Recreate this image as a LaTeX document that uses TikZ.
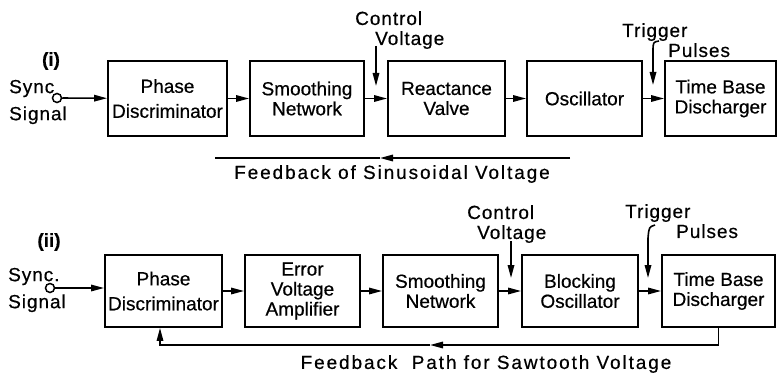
\documentclass[tikz,border=0pt]{standalone}
\usepackage{fontspec}
\setmainfont{Liberation Sans}[FakeBold=0.5]
\usepackage{tikz}
\usetikzlibrary{arrows.meta}

\begin{document}
\begin{tikzpicture}[x=1pt,y=-1pt,
    font=\fontsize{19}{20}\selectfont,
    block/.style={draw,line width=1.9pt,inner sep=0pt,align=center,minimum height=75pt},
    arr/.style={line width=1.6pt,-{Triangle[length=13pt,width=6.5pt]}},
    wire/.style={line width=1.6pt},
    jack/.style={draw,circle,line width=1.5pt,inner sep=0pt,minimum size=9pt},
    lbl/.style={inner sep=0pt,align=left,font=\fontsize{19}{20}\selectfont\addfontfeature{LetterSpace=5}},
    fblbl/.style={inner sep=0pt,font=\fontsize{19}{20}\selectfont\addfontfeature{LetterSpace=10}}]
  \useasboundingbox (0,0) rectangle (778,377);

  % (i) Sinusoidal feedback
  \node[font=\fontsize{19}{20}\selectfont\bfseries] (tag1) at (51,61) {(i)};
  \node[lbl,anchor=west] (sync1) at (9,102) {Sync\\[7pt]Signal};
  \node[jack] (in1) at (57,98) {};
  \node[block,minimum width=119pt] (b11) at (167.5,98.5) {\raisebox{-3pt}{\shortstack{Phase\\[8pt]Discriminator}}};
  \node[block,minimum width=114pt] (b12) at (307,98.5) {Smoothing\\Network};
  \node[block,minimum width=117pt] (b13) at (446.5,98.5) {Reactance\\Valve};
  \node[block,minimum width=115pt] (b14) at (584.5,98.5) {Oscillator};
  \node[block,minimum width=111pt] (b15) at (720.5,98.5) {Time Base\\Discharger};
  \draw[arr] (in1) -- (b11);
  \foreach \a/\b in {b11/b12,b12/b13,b13/b14,b14/b15}
    \draw[arr] (\a) -- (\b);

  % control voltage and trigger pulses
  \node[lbl,anchor=north west] (cv1) at (355,11) {Control\\\hspace*{20pt}Voltage};
  \coordinate (cv1a) at (376,46);
  \coordinate (cv1b) at (376,86);
  \draw[arr] (cv1a) -- (cv1b);
  \node[lbl,anchor=north west] (tp1) at (622,23) {Trigger\\\hspace*{46pt}Pulses};
  \coordinate (tp1a) at (659,41);
  \coordinate (tp1m) at (653,52);
  \coordinate (tp1b) at (653,85);
  \draw[arr] (tp1a) .. controls (653,42) .. (tp1m) -- (tp1b);

  % feedback line
  \coordinate (fb1r) at (570,158);
  \coordinate (fb1m) at (380,158);
  \coordinate (fb1l) at (215,158);
  \draw[arr] (fb1r) -- (fb1m);
  \draw[wire] (fb1m) -- (fb1l);
  \node[fblbl] (fbt1) at (392,174) {Feedback of Sinusoidal Voltage};

  % (ii) Sawtooth feedback
  \node[font=\fontsize{19}{20}\selectfont\bfseries] (tag2) at (49,242) {(ii)};
  \node[lbl,anchor=west] (sync2) at (8,290) {Sync.\\[7pt]Signal};
  \node[jack] (in2) at (50,288) {};
  \node[block,minimum width=117pt,minimum height=72pt] (b21) at (163.5,291) {\raisebox{-3pt}{\shortstack{Phase\\[8pt]Discriminator}}};
  \node[block,minimum width=115pt,minimum height=72pt] (b22) at (302.5,291) {Error\\Voltage\\Amplifier};
  \node[block,minimum width=115pt,minimum height=72pt] (b23) at (440.5,291) {Smoothing\\Network};
  \node[block,minimum width=116pt,minimum height=72pt] (b24) at (580,291) {Blocking\\Oscillator};
  \node[block,minimum width=113pt,minimum height=72pt] (b25) at (718.5,291) {Time Base\\Discharger};
  \draw[arr] (in2) -- (in2 -| b21.west);
  \foreach \a/\b in {b21/b22,b22/b23,b23/b24,b24/b25}
    \draw[arr] (\a) -- (\b);

  % control voltage and trigger pulses
  \node[lbl,anchor=north west] (cv2) at (467,205) {Control\\\hspace*{10pt}Voltage};
  \coordinate (cv2a) at (511,241);
  \coordinate (cv2b) at (511,278);
  \draw[arr] (cv2a) -- (cv2b);
  \node[lbl,anchor=north west] (tp2) at (625,204) {Trigger\\\hspace*{51pt}Pulses};
  \coordinate (tp2a) at (655,225);
  \coordinate (tp2m) at (648,238);
  \coordinate (tp2b) at (648,278);
  \draw[arr] (tp2a) .. controls (649,227) .. (tp2m) -- (tp2b);

  % feedback path
  \coordinate (fb2m) at (430,345);
  \coordinate (fb2l) at (160,345);
  \draw[arr] (b25.south) |- (fb2m);
  \draw[arr] (fb2m) -- (fb2l) -- (fb2l |- b21.south);
  \node[fblbl] (fbt2) at (486,364) {Feedback\ \ Path for Sawtooth Voltage};
\end{tikzpicture}
\end{document}
